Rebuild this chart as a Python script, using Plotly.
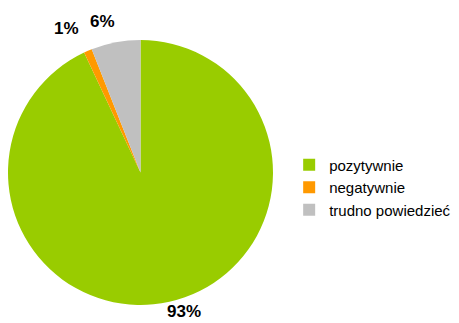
import plotly.graph_objects as go

# Survey answers and their shares (%)
categories = ["pozytywnie", "negatywnie", "trudno powiedzieć"]
shares = [93, 1, 6]
colors = ["#99CC00", "#FF9900", "#C0C0C0"]

# Where each percentage label sits (paper coordinates)
label_x = [0.401, 0.144, 0.224]
label_y = [0.036, 0.913, 0.933]

W, H = 459, 323
font_family = "Arial, Liberation Sans, sans-serif"

fig = go.Figure(
    go.Pie(
        labels=categories,
        values=shares,
        marker=dict(colors=colors, line=dict(width=0)),
        sort=False,
        direction="clockwise",
        rotation=0,
        textinfo="none",
        hoverinfo="label+percent",
        domain=dict(x=[8 / W, 273 / W], y=[1 - 305 / H, 1 - 40 / H]),
    )
)

for val, x, y in zip(shares, label_x, label_y):
    fig.add_annotation(
        x=x, y=y, xref="paper", yref="paper",
        text=f"<b>{val}%</b>", showarrow=False,
        xanchor="center", yanchor="middle",
        font=dict(family=font_family, size=17, color="#000000"),
    )

fig.update_layout(
    width=W, height=H,
    margin=dict(l=0, r=0, t=0, b=0),
    paper_bgcolor="white",
    plot_bgcolor="white",
    font=dict(family=font_family, color="#000000"),
    legend=dict(
        x=0.63, y=1 - 187.5 / H,
        xanchor="left", yanchor="middle",
        font=dict(family=font_family, size=15, color="#000000"),
        bgcolor="rgba(0,0,0,0)",
        itemwidth=30,
    ),
    showlegend=True,
)

fig.write_html("out.html")
